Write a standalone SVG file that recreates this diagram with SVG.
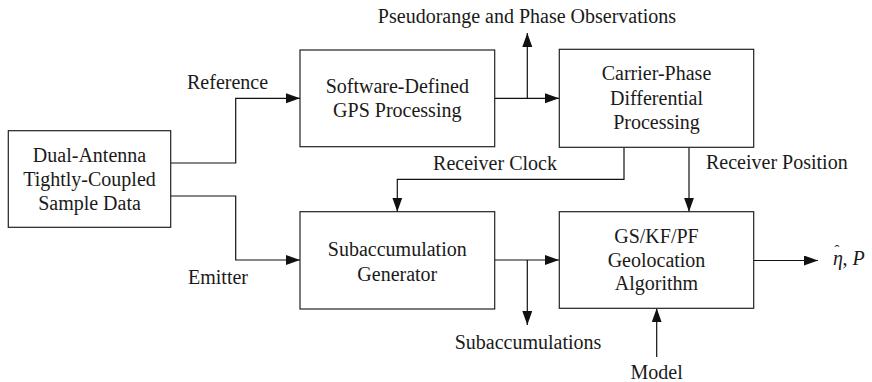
<svg xmlns="http://www.w3.org/2000/svg" width="872" height="382" viewBox="0 0 872 382">
  <style>
    .box { fill: #ffffff; stroke: #222222; stroke-width: 1.2; }
    .t { font-size: 20px; fill: #1a1a1a; }
    .c { text-anchor: middle; }
    .conn { fill: none; stroke: #111111; stroke-width: 1.2; }
    .arr { marker-end: url(#ah); }
  </style>
  <defs>
    <marker id="ah" markerUnits="userSpaceOnUse" markerWidth="15" markerHeight="11" refX="14" refY="5" orient="auto">
      <path d="M0,0 L14,5 L0,10 z" fill="#111111"/>
    </marker>
  </defs>
  <rect width="872" height="382" fill="#ffffff"/>

  <g font-family="Liberation Serif, DejaVu Serif, serif">
  <g id="connectors">
    <path class="conn arr" d="M171,163 H235.7 V98.3 H300"/>
    <path class="conn arr" d="M171,196 H235.7 V260 H300"/>
    <path class="conn arr" d="M494.7,98.3 H559"/>
    <path class="conn arr" d="M527.3,98.3 V33"/>
    <path class="conn arr" d="M624,147.3 V179.3 H397.3 V211.7"/>
    <path class="conn arr" d="M689,147.3 V211.7"/>
    <path class="conn arr" d="M494.7,260 H559"/>
    <path class="conn arr" d="M527.3,260 V325"/>
    <path class="conn arr" d="M753.7,260.5 H818"/>
    <path class="conn arr" d="M656.7,357 V308.3"/>
    <text class="t" x="187" y="88.5">Reference</text>
    <text class="t" x="188" y="284">Emitter</text>
    <text class="t c" x="527" y="22.5">Pseudorange and Phase Observations</text>
    <text class="t c" x="495" y="170">Receiver Clock</text>
    <text class="t" x="706" y="169">Receiver Position</text>
    <text class="t c" x="528" y="349">Subaccumulations</text>
    <text class="t c" x="656.7" y="378.5">Model</text>
    <text class="t" x="833" y="265"><tspan font-style="italic">η</tspan><tspan dx="-8.5" dy="-10" font-size="15">ˆ</tspan><tspan dx="3" dy="10">, </tspan><tspan font-style="italic">P</tspan></text>
  </g>

  <g id="sample-data">
    <rect class="box" x="8.3" y="130.7" width="162.4" height="96.6"/>
    <text class="t c" x="89.5" y="161.5">Dual-Antenna</text>
    <text class="t c" x="89.5" y="185.5">Tightly-Coupled</text>
    <text class="t c" x="89.5" y="209.5">Sample Data</text>
  </g>

  <g id="gps-processing">
    <rect class="box" x="300" y="50" width="194.7" height="96.7"/>
    <text class="t c" x="397.3" y="92.5">Software-Defined</text>
    <text class="t c" x="397.3" y="117">GPS Processing</text>
  </g>

  <g id="cpd-processing">
    <rect class="box" x="559.3" y="49.3" width="194.4" height="98"/>
    <text class="t c" x="656.5" y="80">Carrier-Phase</text>
    <text class="t c" x="656.5" y="104.5">Differential</text>
    <text class="t c" x="656.5" y="129">Processing</text>
  </g>

  <g id="subaccumulation-generator">
    <rect class="box" x="300" y="211.7" width="194.7" height="97.3"/>
    <text class="t c" x="397.3" y="256">Subaccumulation</text>
    <text class="t c" x="397.3" y="280.5">Generator</text>
  </g>

  <g id="geolocation">
    <rect class="box" x="559.3" y="211.7" width="194.4" height="96.6"/>
    <text class="t c" x="656.5" y="243">GS/KF/PF</text>
    <text class="t c" x="656.5" y="266.5">Geolocation</text>
    <text class="t c" x="656.5" y="290">Algorithm</text>
  </g>
  </g>
</svg>
